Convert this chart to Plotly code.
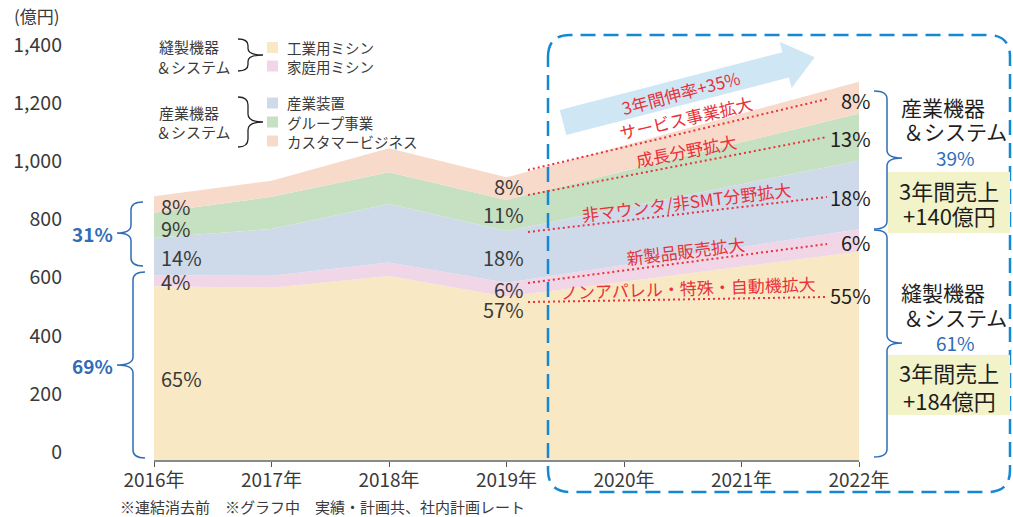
import plotly.graph_objects as go
import math

# ---------------- data ----------------
years = [2016, 2017, 2018, 2019, 2022]
tick_years = [2016, 2017, 2018, 2019, 2020, 2021, 2022]
tick_labels = ["2016年", "2017年", "2018年", "2019年", "2020年", "2021年", "2022年"]

series_names = ["工業用ミシン", "家庭用ミシン", "産業装置", "グループ事業", "カスタマービジネス"]
industrial_sewing = [598, 593, 633, 562, 717]
household_sewing = [38, 41, 47, 48, 77]
industrial_equipment = [129, 161, 201, 178, 236]
group_business = [86, 111, 109, 107, 163]
customer_business = [57, 55, 83, 78, 109]
series_values = [industrial_sewing, household_sewing, industrial_equipment,
                 group_business, customer_business]
colors = ["#F8E8C3", "#F0D6E6", "#CEDAEA", "#C6E1C1", "#F8DACB"]

pct_2016 = ["65%", "4%", "14%", "9%", "8%"]
pct_2019 = ["57%", "6%", "18%", "11%", "8%"]
pct_2022 = ["55%", "6%", "18%", "13%", "8%"]

y_ticks = [0, 200, 400, 600, 800, 1000, 1200, 1400]

FONT = "Noto Sans CJK JP"
TXT = "#3a3a3a"
BLUE = "#2F6DB8"
RED = "#E8323A"

# ---------------- layout geometry ----------------
W, H = 1013, 517
L, R, T, B = 154, 859, 39, 460
Y_TOP = 1449


def px(x):
    return (x - L) / (R - L)


def py(y):
    return (B - y) / (B - T)


fig = go.Figure()
for name, vals, col in zip(series_names, series_values, colors):
    fig.add_trace(go.Scatter(
        x=years, y=vals, name=name, stackgroup="one", mode="none",
        fillcolor=col, showlegend=False, hoverinfo="x+y+name"))

shapes = []
annotations = []


def ann(text, x, y, size, color=TXT, xanchor="center", angle=0, xref="paper",
        xshift=0, yanchor="middle"):
    annotations.append(dict(
        text=text, x=x, y=y, xref=xref, yref="paper", showarrow=False,
        xanchor=xanchor, yanchor=yanchor, textangle=angle, xshift=xshift,
        font=dict(family=FONT, size=size, color=color)))


def P(x, y):
    return f"{px(x):.5f},{py(y):.5f}"


def path_from(points, close=False):
    s = "M " + " L ".join(P(x, y) for x, y in points)
    return s + (" Z" if close else "")


def brace(xend, xv, xtip, ytop, ybot, ymid, color, width=1.5):
    r = min(8, (ybot - ytop) / 5)
    d = (f"M {P(xend, ytop)} Q {P(xv, ytop)} {P(xv, ytop + r)} "
         f"L {P(xv, ymid - r)} Q {P(xv, ymid)} {P(xtip, ymid)} "
         f"Q {P(xv, ymid)} {P(xv, ymid + r)} "
         f"L {P(xv, ybot - r)} Q {P(xv, ybot)} {P(xend, ybot)}")
    shapes.append(dict(type="path", path=d, xref="paper", yref="paper",
                       line=dict(color=color, width=width)))


# ---------------- y unit ----------------
ann("(億円)", px(12), py(15), 17, xanchor="left")

# ---------------- custom legend ----------------
ann("縫製機器", px(157), py(47), 15, xanchor="left")
ann("＆システム", px(154), py(66), 15, xanchor="left")
ann("産業機器", px(157), py(112), 15, xanchor="left")
ann("＆システム", px(154), py(131), 15, xanchor="left")
brace(238, 248, 263, 39, 71, 55, "#222222", 1.3)
brace(238, 248, 263, 97, 147, 122, "#222222", 1.3)
legend_y = [47.5, 66, 103, 122, 141]
for i, yc in enumerate(legend_y):
    shapes.append(dict(type="rect", xref="paper", yref="paper",
                       x0=px(267), x1=px(278), y0=py(yc + 5.5), y1=py(yc - 5.5),
                       fillcolor=colors[i], line=dict(width=0)))
    ann(series_names[i], px(285), py(yc), 14.5, xanchor="left")

# ---------------- percentage labels ----------------
y16 = [378, 281, 257, 229, 206]
for t, yc in zip(pct_2016, y16):
    ann(t, 2016, py(yc), 20, xanchor="left", xref="x", xshift=5)
y19 = [309, 289.5, 257, 214, 186]
for t, yc in zip(pct_2019, y19):
    ann(t, 2019, py(yc), 20, xanchor="right", xref="x", xshift=19)
y22 = [295, 243, 197, 138, 100]
for t, yc in zip(pct_2022, y22):
    ann(t, 2022, py(yc), 20, color="#1e1e1e", xanchor="right", xref="x", xshift=14)

# ---------------- left braces ----------------
brace(143, 131, 117, 202, 266, 233, BLUE, 1.5)
brace(145, 133, 117, 272, 458, 365, BLUE, 1.5)
ann("<b>31%</b>", px(115), py(233), 19, color=BLUE, xanchor="right")
ann("<b>69%</b>", px(115), py(365), 19, color=BLUE, xanchor="right")

# ---------------- dashed rounded frame ----------------
x0, x1, y0, y1, rr = 548, 1010, 35, 492, 22
frame = (f"M {P(x0, y0 + rr)} Q {P(x0, y0)} {P(x0 + rr, y0)} L {P(x1 - rr, y0)} "
         f"Q {P(x1, y0)} {P(x1, y0 + rr)} L {P(x1, y1 - rr)} Q {P(x1, y1)} {P(x1 - rr, y1)} "
         f"L {P(x0 + rr, y1)} Q {P(x0, y1)} {P(x0, y1 - rr)} Z")
shapes.append(dict(type="path", path=frame, xref="paper", yref="paper",
                   line=dict(color="#1488D2", width=2.5, dash="15px,8px")))

# ---------------- arrow ----------------
tail = (563, 122.5)
ang = math.atan2(-58.5, 226)
u = (math.cos(ang), math.sin(ang))
n = (-u[1], u[0])
body_len, head_len, bw, hw = 230, 30, 13, 24
hb = (tail[0] + body_len * u[0], tail[1] + body_len * u[1])
tip = (hb[0] + head_len * u[0], hb[1] + head_len * u[1])
pts = [
    (tail[0] - bw * n[0], tail[1] - bw * n[1]),
    (hb[0] - bw * n[0], hb[1] - bw * n[1]),
    (hb[0] - hw * n[0], hb[1] - hw * n[1]),
    tip,
    (hb[0] + hw * n[0], hb[1] + hw * n[1]),
    (hb[0] + bw * n[0], hb[1] + bw * n[1]),
    (tail[0] + bw * n[0], tail[1] + bw * n[1]),
]
shapes.append(dict(type="path", path=path_from(pts, close=True), xref="paper",
                   yref="paper", fillcolor="#CFE6F5", line=dict(width=0), layer="above"))
ann("3年間伸率+35%", px(680), py(92), 17, color=RED, angle=-15)

# ---------------- red dotted guide lines ----------------
guides = [((528, 170), (827, 99)), ((528, 195), (827, 137)), ((528, 232), (827, 197)),
          ((528, 283), (827, 244)), ((528, 302), (827, 297))]
for (a, b) in guides:
    shapes.append(dict(type="line", xref="paper", yref="paper",
                       x0=px(a[0]), y0=py(a[1]), x1=px(b[0]), y1=py(b[1]),
                       line=dict(color=RED, width=2, dash="2px,3px")))

ann("サービス事業拡大", px(686), py(118), 17, color=RED, angle=-13)
ann("成長分野拡大", px(686), py(150), 17, color=RED, angle=-11)
ann("非マウンタ/非SMT分野拡大", px(686), py(202), 17, color=RED, angle=-7)
ann("新製品販売拡大", px(685), py(250), 17, color=RED, angle=-7)
ann("ノンアパレル・特殊・自動機拡大", px(688), py(287), 17, color=RED, angle=-2)

# ---------------- right side ----------------
brace(874, 887, 902, 91, 229, 158, BLUE, 1.5)
brace(874, 887, 902, 230, 457, 343, BLUE, 1.5)

ann("産業機器", px(943), py(107), 21, color="#1e1e1e")
ann("＆システム", px(955), py(131), 21, color="#1e1e1e")
ann("39%", px(955), py(157), 19, color=BLUE)
shapes.append(dict(type="rect", xref="paper", yref="paper", x0=px(888), x1=px(1010),
                   y0=py(233), y1=py(172), fillcolor="#F2F3C8", line=dict(width=0)))
ann("3年間売上", px(949), py(190), 22, color="#1e1e1e")
ann("+140億円", px(949), py(215), 22, color="#1e1e1e")

ann("縫製機器", px(943), py(292), 21, color="#1e1e1e")
ann("＆システム", px(955), py(317), 21, color="#1e1e1e")
ann("61%", px(955), py(342), 19, color=BLUE)
shapes.append(dict(type="rect", xref="paper", yref="paper", x0=px(888), x1=px(1010),
                   y0=py(415), y1=py(355), fillcolor="#F2F3C8", line=dict(width=0)))
ann("3年間売上", px(949), py(372), 22, color="#1e1e1e")
ann("+184億円", px(949), py(400), 22, color="#1e1e1e")

# ---------------- footnote ----------------
ann("※連結消去前　※グラフ中　実績・計画共、社内計画レート", px(118), py(507), 15,
    xanchor="left")

fig.update_layout(
    width=W, height=H,
    margin=dict(l=L, r=W - R, t=T, b=H - B, pad=0),
    paper_bgcolor="white", plot_bgcolor="white",
    showlegend=False,
    font=dict(family=FONT, color=TXT),
    shapes=shapes, annotations=annotations,
    xaxis=dict(range=[2016, 2022], tickvals=tick_years, ticktext=tick_labels,
               showgrid=False, zeroline=False, showline=True, linecolor="#8a8a8a",
               linewidth=2, ticks="outside", ticklen=5, tickcolor="#555", tickwidth=1,
               tickfont=dict(family=FONT, size=19, color=TXT), automargin=False,
               ticklabelstandoff=-3),
    yaxis=dict(range=[0, Y_TOP], tickvals=y_ticks, tickformat=",",
               showgrid=False, zeroline=False, showline=False, ticks="",
               tickfont=dict(family=FONT, size=19.5, color=TXT),
               ticklabelstandoff=91, ticklabelshift=-8, automargin=False),
)

fig.write_html("out.html", config={"displayModeBar": False},
               post_script="document.body.style.margin='0';")
